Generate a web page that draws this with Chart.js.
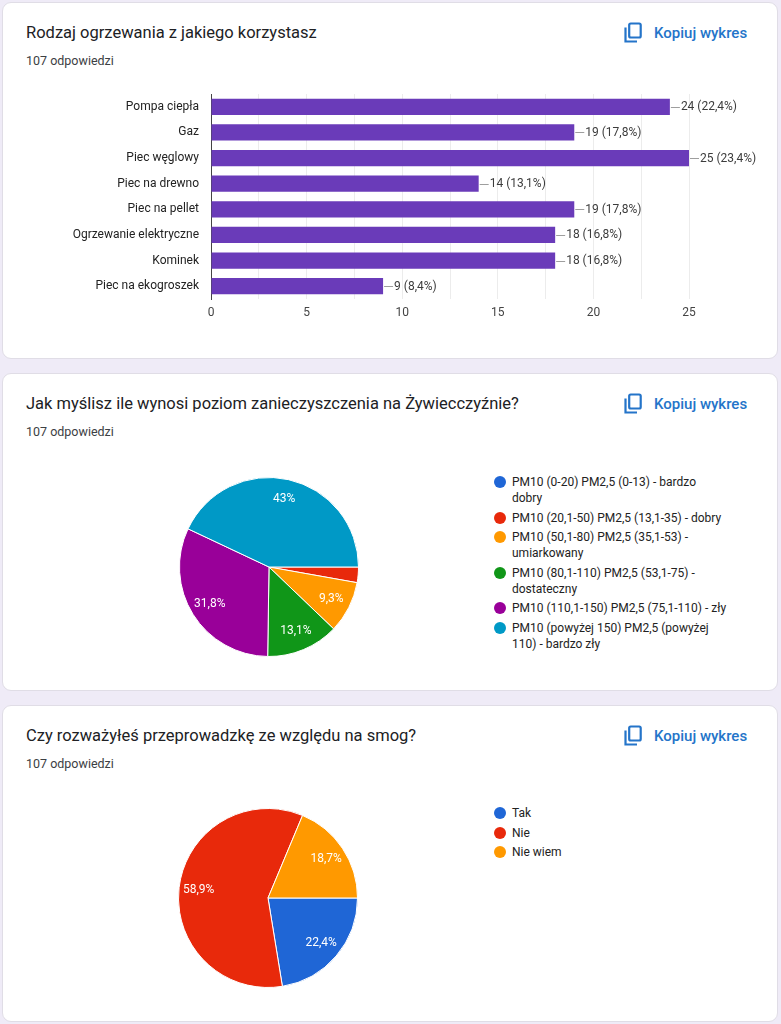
<!DOCTYPE html>
<html><head><meta charset="utf-8">
<script src="https://cdn.jsdelivr.net/npm/chart.js@4.4.0/dist/chart.umd.min.js"></script>
<style>
html,body{margin:0;padding:0;}
body{width:781px;height:1024px;background:#efebf7;position:relative;overflow:hidden;font-family:Roboto,Arial,sans-serif;}
.card{position:absolute;left:2px;width:776px;background:#fff;border:1px solid #e0dde6;border-radius:9px;box-sizing:border-box;}
.title{position:absolute;left:23px;top:20px;font-size:16.5px;line-height:20px;color:#202124;white-space:nowrap;}
.count{position:absolute;left:23px;top:50px;font-size:12.5px;line-height:16px;color:#3c4043;white-space:nowrap;}
.copy{position:absolute;left:620px;top:18px;height:24px;display:flex;align-items:center;color:#2474c9;font-weight:500;font-size:15px;white-space:nowrap;}
.copy svg{margin-right:11px;}
canvas{position:absolute;}
.legend{position:absolute;font-size:12px;line-height:16px;color:#222;}
.legend .item{position:relative;padding-left:18px;margin-bottom:3.5px;white-space:nowrap;}
.legend .dot{position:absolute;left:0;top:2px;width:12px;height:12px;border-radius:50%;}
</style></head>
<body>
<div class="card" style="top:2px;height:357px;">
  <div class="title">Rodzaj ogrzewania z jakiego korzystasz</div>
  <div class="count">107 odpowiedzi</div>
  <div class="copy"><svg width="20" height="22" viewBox="0 0 20 22"><path d="M2.5 5.5v14h11.5" fill="none" stroke="#2474c9" stroke-width="2.2"/><rect x="6.2" y="1.5" width="11.5" height="14" rx="1.5" fill="none" stroke="#2474c9" stroke-width="2.2"/></svg>Kopiuj wykres</div>
</div>
<div class="card" style="top:373px;height:318px;">
  <div class="title">Jak myślisz ile wynosi poziom zanieczyszczenia na Żywiecczyźnie?</div>
  <div class="count">107 odpowiedzi</div>
  <div class="copy"><svg width="20" height="22" viewBox="0 0 20 22"><path d="M2.5 5.5v14h11.5" fill="none" stroke="#2474c9" stroke-width="2.2"/><rect x="6.2" y="1.5" width="11.5" height="14" rx="1.5" fill="none" stroke="#2474c9" stroke-width="2.2"/></svg>Kopiuj wykres</div>
</div>
<div class="card" style="top:705px;height:317px;">
  <div class="title">Czy rozważyłeś przeprowadzkę ze względu na smog?</div>
  <div class="count">107 odpowiedzi</div>
  <div class="copy"><svg width="20" height="22" viewBox="0 0 20 22"><path d="M2.5 5.5v14h11.5" fill="none" stroke="#2474c9" stroke-width="2.2"/><rect x="6.2" y="1.5" width="11.5" height="14" rx="1.5" fill="none" stroke="#2474c9" stroke-width="2.2"/></svg>Kopiuj wykres</div>
</div>

<canvas id="bar" style="left:0;top:80px;width:781px;height:250px;" width="781" height="250"></canvas>
<canvas id="pie1" style="left:169px;top:467px;width:200px;height:200px;" width="200" height="200"></canvas>
<div id="legend1" class="legend" style="left:494px;top:474px;"></div>
<canvas id="pie2" style="left:168px;top:798px;width:200px;height:200px;" width="200" height="200"></canvas>
<div id="legend2" class="legend" style="left:494px;top:805px;"></div>

<script>
// ---- data ----
const respondents = 107;

const heatingCategories = ['Pompa ciepła','Gaz','Piec węglowy','Piec na drewno','Piec na pellet','Ogrzewanie elektryczne','Kominek','Piec na ekogroszek'];
const heatingCounts = [24, 19, 25, 14, 19, 18, 18, 9];
const heatingAxisMax = 25;
const heatingTickStep = 5;

const pollutionCategories = [
  'PM10 (0-20) PM2,5 (0-13) - bardzo dobry',
  'PM10 (20,1-50) PM2,5 (13,1-35) - dobry',
  'PM10 (50,1-80) PM2,5 (35,1-53) - umiarkowany',
  'PM10 (80,1-110) PM2,5 (53,1-75) - dostateczny',
  'PM10 (110,1-150) PM2,5 (75,1-110) - zły',
  'PM10 (powyżej 150) PM2,5 (powyżej 110) - bardzo zły'
];
const pollutionCounts = [0, 3, 10, 14, 34, 46];

const movingCategories = ['Tak', 'Nie', 'Nie wiem'];
const movingCounts = [24, 63, 20];

// ---- styles ----
const barColor = '#6a3bb9';
const pollutionColors = ['#1f66d6', '#e8290b', '#ff9900', '#109618', '#990099', '#0099c6'];
const movingColors = ['#1f66d6', '#e8290b', '#ff9900'];
const FONT = 'Roboto, Arial, sans-serif';
const LEGEND_FONT = '12px ' + FONT;

function pct(v, total) {
  let s = (v / total * 100).toFixed(1);
  if (s.endsWith('.0')) s = s.slice(0, -2);
  return s.replace('.', ',') + '%';
}

// ---- bar chart ----
const barLabelPlugin = {
  id: 'barLabels',
  afterDatasetsDraw(chart) {
    const ctx = chart.ctx;
    const meta = chart.getDatasetMeta(0);
    const data = chart.data.datasets[0].data;
    ctx.save();
    ctx.font = '12px ' + FONT;
    ctx.textBaseline = 'middle';
    ctx.textAlign = 'left';
    meta.data.forEach((bar, i) => {
      const x = bar.x, y = bar.y;
      ctx.strokeStyle = '#9e9e9e';
      ctx.lineWidth = 1;
      ctx.beginPath();
      ctx.moveTo(x + 1, Math.round(y) + 0.5);
      ctx.lineTo(x + 10, Math.round(y) + 0.5);
      ctx.stroke();
      ctx.fillStyle = '#3c3c3c';
      ctx.fillText(data[i] + ' (' + pct(data[i], respondents) + ')', x + 11, y + 0.5);
    });
    ctx.restore();
  }
};

new Chart(document.getElementById('bar'), {
  type: 'bar',
  data: {
    labels: heatingCategories,
    datasets: [{ data: heatingCounts, backgroundColor: barColor, categoryPercentage: 1, barPercentage: 0.63 }]
  },
  options: {
    indexAxis: 'y',
    responsive: false,
    animation: false,
    devicePixelRatio: 1,
    layout: { padding: { top: 14, right: 92, left: 0, bottom: 0 } },
    plugins: { legend: { display: false }, tooltip: { enabled: false } },
    scales: {
      x: {
        min: 0, max: heatingAxisMax,
        ticks: {
          stepSize: heatingTickStep / 2, autoSkip: false, maxRotation: 0,
          padding: 7, color: '#444', font: { family: FONT, size: 12 },
          callback: v => (v % heatingTickStep === 0 ? v : '')
        },
        grid: { color: '#ececec', drawTicks: false },
        border: { display: false },
        afterFit: s => { s.height = 31; s.paddingLeft = 0; s.paddingRight = 0; }
      },
      y: {
        ticks: { padding: 12, color: '#222', font: { family: FONT, size: 12 } },
        grid: { display: false, drawTicks: false },
        border: { display: true, color: '#444', width: 1 },
        afterFit: s => { s.width = 211; s.paddingTop = 0; s.paddingBottom = 0; }
      }
    }
  },
  plugins: [barLabelPlugin]
});

// ---- pies ----
const sliceLabelPlugin = {
  id: 'sliceLabels',
  afterDatasetsDraw(chart) {
    const ctx = chart.ctx;
    const data = chart.data.datasets[0].data;
    const total = data.reduce((a, b) => a + b, 0);
    const meta = chart.getDatasetMeta(0);
    ctx.save();
    ctx.font = '12px ' + FONT;
    ctx.textAlign = 'center';
    ctx.textBaseline = 'middle';
    ctx.fillStyle = '#ffffff';
    meta.data.forEach((arc, i) => {
      if (data[i] / total < 0.05) return;
      const p = arc.getProps(['x', 'y', 'startAngle', 'endAngle', 'outerRadius'], true);
      const mid = (p.startAngle + p.endAngle) / 2;
      const r = p.outerRadius * 0.78;
      ctx.fillText(pct(data[i], total), p.x + Math.cos(mid) * r, p.y + Math.sin(mid) * r);
    });
    ctx.restore();
  }
};

function makePie(id, labels, values, colors) {
  new Chart(document.getElementById(id), {
    type: 'pie',
    data: { labels: labels, datasets: [{ data: values, backgroundColor: colors, borderColor: '#ffffff', borderWidth: 1 }] },
    options: {
      responsive: false, animation: false, devicePixelRatio: 1,
      rotation: 90,
      layout: { padding: 10 },
      plugins: { legend: { display: false }, tooltip: { enabled: false } }
    },
    plugins: [sliceLabelPlugin]
  });
}

// greedy word wrap; the legend column is as wide as its widest one-line entry
const measureCtx = document.createElement('canvas').getContext('2d');
measureCtx.font = LEGEND_FONT;
function wrapText(text, maxW) {
  const words = text.split(' ');
  const lines = [];
  let cur = '';
  words.forEach(w => {
    const test = cur ? cur + ' ' + w : w;
    if (cur && measureCtx.measureText(test).width > maxW) { lines.push(cur); cur = w; }
    else cur = test;
  });
  if (cur) lines.push(cur);
  return lines;
}

function makeLegend(id, labels, colors, maxW) {
  const el = document.getElementById(id);
  labels.forEach((t, i) => {
    const item = document.createElement('div');
    item.className = 'item';
    const dot = document.createElement('span');
    dot.className = 'dot';
    dot.style.background = colors[i];
    item.appendChild(dot);
    wrapText(t, maxW).forEach((line, k) => {
      if (k > 0) item.appendChild(document.createElement('br'));
      item.appendChild(document.createTextNode(line));
    });
    el.appendChild(item);
  });
}

const legendMaxW = measureCtx.measureText(pollutionCategories[4]).width + 1;

makePie('pie1', pollutionCategories, pollutionCounts, pollutionColors);
makeLegend('legend1', pollutionCategories, pollutionColors, legendMaxW);
makePie('pie2', movingCategories, movingCounts, movingColors);
makeLegend('legend2', movingCategories, movingColors, legendMaxW);
</script>
</body></html>
